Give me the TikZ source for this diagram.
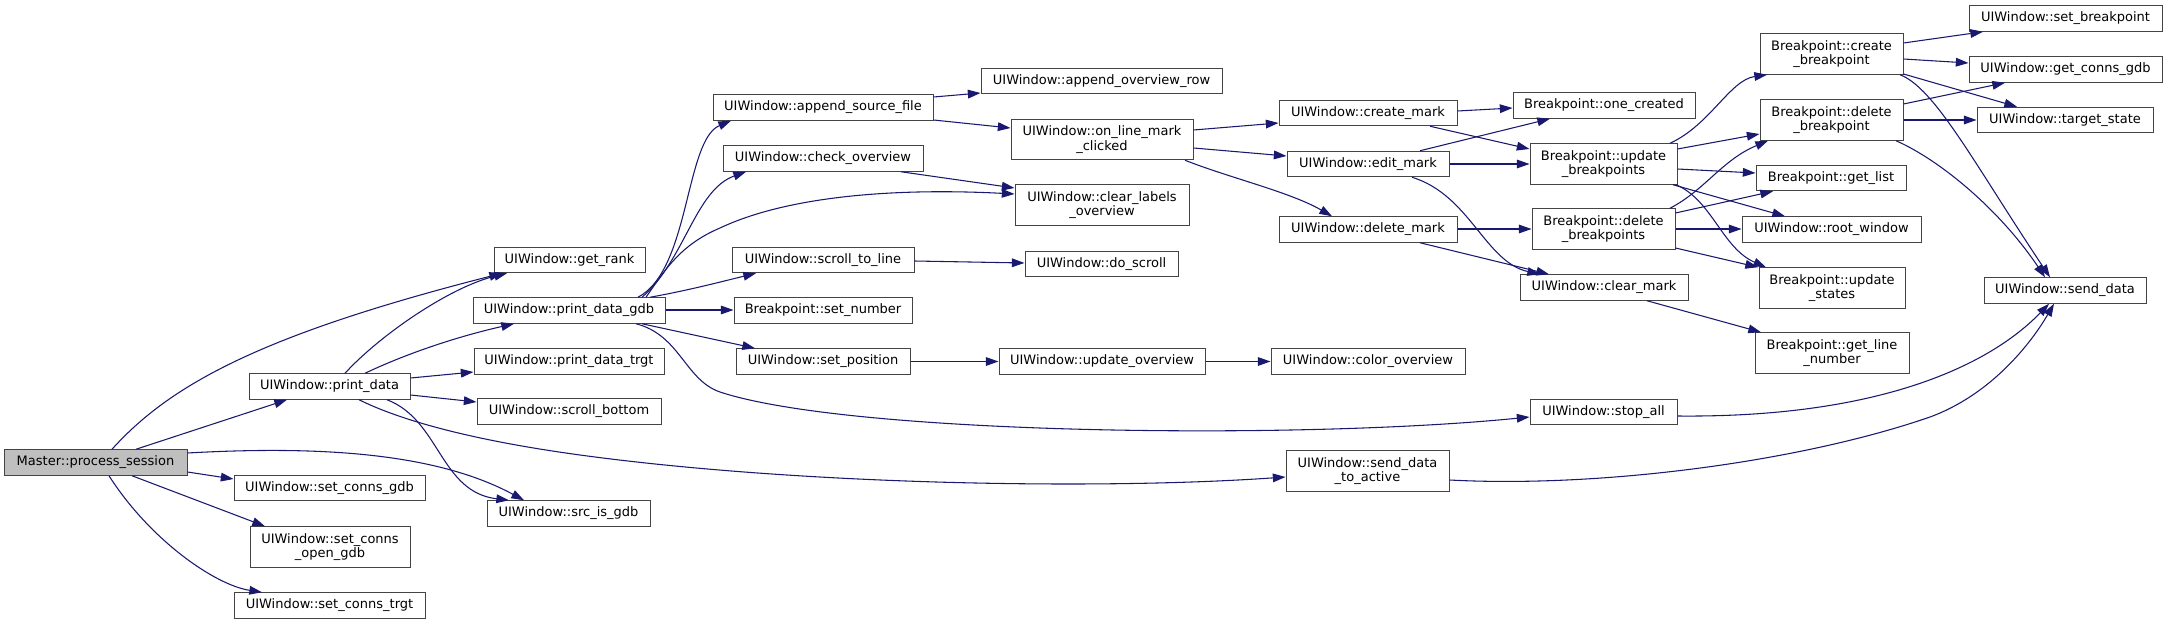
\documentclass[tikz,border=0pt]{standalone}
\usepackage{fontspec}
\setmainfont{DejaVu Sans}
\usetikzlibrary{arrows.meta,calc}
\definecolor{edgeblue}{HTML}{191970}
\definecolor{boxline}{HTML}{444444}
\definecolor{rootfill}{HTML}{BFBFBF}
\begin{document}
\begin{tikzpicture}[x=0.75pt,y=-0.75pt,
  fn/.style={draw=boxline, line width=0.75pt, fill=white, inner sep=0pt, align=center,
    font=\fontsize{9.75}{10.75}\selectfont, minimum height=25.5*0.75pt},
  two/.style={minimum height=40.5*0.75pt},
  root/.style={fill=rootfill},
  call/.style={draw=edgeblue, line width=0.8pt, -{Triangle[length=9.5pt,width=6.5pt]}}]
\fill[white] (0,0) rectangle (2167,624);
\useasboundingbox (0,0) rectangle (2167,624);

% column 0
\node[fn, root, minimum width=183*0.75pt] (M) at (95.5,462.5) {Master::process\_session};
% column 1
\node[fn, minimum width=161*0.75pt] (PD) at (329.5,386.5) {UIWindow::print\_data};
\node[fn, minimum width=191*0.75pt] (SCG) at (329.5,488) {UIWindow::set\_conns\_gdb};
\node[fn, two, minimum width=160*0.75pt] (SCOG) at (330,547) {UIWindow::set\_conns\\\_open\_gdb};
\node[fn, minimum width=191*0.75pt] (SCT) at (329.5,605.5) {UIWindow::set\_conns\_trgt};
% column 2
\node[fn, minimum width=151*0.75pt] (GR) at (569.5,260) {UIWindow::get\_rank};
\node[fn, minimum width=192*0.75pt] (PDG) at (569,310.5) {UIWindow::print\_data\_gdb};
\node[fn, minimum width=190*0.75pt] (PDT) at (569,361.5) {UIWindow::print\_data\_trgt};
\node[fn, minimum width=184*0.75pt] (SB) at (569,411.5) {UIWindow::scroll\_bottom};
\node[fn, minimum width=163*0.75pt] (SIG) at (568.5,513.5) {UIWindow::src\_is\_gdb};
% column 3
\node[fn, minimum width=220*0.75pt] (ASF) at (823,107.5) {UIWindow::append\_source\_file};
\node[fn, minimum width=200*0.75pt] (CO) at (823,158.5) {UIWindow::check\_overview};
\node[fn, minimum width=182*0.75pt] (STL) at (823,260) {UIWindow::scroll\_to\_line};
\node[fn, minimum width=178*0.75pt] (SN) at (823,310.5) {Breakpoint::set\_number};
\node[fn, minimum width=174*0.75pt] (SP) at (823,361.5) {UIWindow::set\_position};
% column 4
\node[fn, minimum width=241*0.75pt] (AOR) at (1101.5,81) {UIWindow::append\_overview\_row};
\node[fn, two, minimum width=182*0.75pt] (OLMC) at (1102,139.5) {UIWindow::on\_line\_mark\\\_clicked};
\node[fn, two, minimum width=174*0.75pt] (CLO) at (1102,205) {UIWindow::clear\_labels\\\_overview};
\node[fn, minimum width=153*0.75pt] (DS) at (1101.5,264) {UIWindow::do\_scroll};
\node[fn, minimum width=206*0.75pt] (UO) at (1102,361.5) {UIWindow::update\_overview};
% column 5
\node[fn, minimum width=178*0.75pt] (CM) at (1368,113) {UIWindow::create\_mark};
\node[fn, minimum width=162*0.75pt] (EM) at (1368,164) {UIWindow::edit\_mark};
\node[fn, minimum width=178*0.75pt] (DM) at (1368,229.5) {UIWindow::delete\_mark};
\node[fn, minimum width=194*0.75pt] (COV) at (1368,361.5) {UIWindow::color\_overview};
\node[fn, two, minimum width=163*0.75pt] (SDTA) at (1367.5,471) {UIWindow::send\_data\\\_to\_active};
% column 6
\node[fn, minimum width=182*0.75pt] (OC) at (1604,105.5) {Breakpoint::one\_created};
\node[fn, two, minimum width=147*0.75pt] (UB) at (1603.5,164) {Breakpoint::update\\\_breakpoints};
\node[fn, two, minimum width=143*0.75pt] (DB) at (1603.5,229) {Breakpoint::delete\\\_breakpoints};
\node[fn, minimum width=168*0.75pt] (CLM) at (1604,287.5) {UIWindow::clear\_mark};
\node[fn, minimum width=147*0.75pt] (SA) at (1603.5,412) {UIWindow::stop\_all};
% column 7
\node[fn, two, minimum width=143*0.75pt] (CB) at (1831.5,54) {Breakpoint::create\\\_breakpoint};
\node[fn, two, minimum width=143*0.75pt] (DBp) at (1831.5,120) {Breakpoint::delete\\\_breakpoint};
\node[fn, minimum width=150*0.75pt] (GL) at (1831,178) {Breakpoint::get\_list};
\node[fn, minimum width=179*0.75pt] (RW) at (1831.5,229.5) {UIWindow::root\_window};
\node[fn, two, minimum width=146*0.75pt] (US) at (1832,288) {Breakpoint::update\\\_states};
\node[fn, two, minimum width=154*0.75pt] (GLN) at (1832,353) {Breakpoint::get\_line\\\_number};
% column 8
\node[fn, minimum width=193*0.75pt] (SBP) at (2065.5,18.5) {UIWindow::set\_breakpoint};
\node[fn, minimum width=193*0.75pt] (GCG) at (2065.5,69.5) {UIWindow::get\_conns\_gdb};
\node[fn, minimum width=176*0.75pt] (TS) at (2065,120) {UIWindow::target\_state};
\node[fn, minimum width=162*0.75pt] (SD) at (2065,290.5) {UIWindow::send\_data};

% edges from Master::process_session
\draw[call] (M.north -| 112,0) .. controls (170,385) and (260,335) .. (GR.south -| 502,0);
\draw[call] (M.north -| 136,0) -- (PD.south -| 287,0);
\draw[call] (M.east |- 0,453) .. controls (330,445) and (440,455) .. (SIG.north -| 524,0);
\draw[call] (M.east |- 0,472) -- (SCG.west |- 0,479);
\draw[call] (M.south -| 132,0) -- (SCOG.north -| 265,0);
\draw[call] (M.south -| 109,0) .. controls (150,540) and (215,585) .. (SCT.north -| 262,0);

% edges from print_data
\draw[call] (PD.north -| 345,0) .. controls (380,335) and (450,287) .. (GR.south -| 507,0);
\draw[call] (PD.north -| 365,0) .. controls (410,352) and (460,336) .. (PDG.south -| 514,0);
\draw[call] (PD.east |- 0,378) -- (PDT.west |- 0,372);
\draw[call] (PD.east |- 0,395) -- (SB.west |- 0,402);
\draw[call] (PD.south -| 387,0) .. controls (440,420) and (440,492) .. (SIG.north -| 509,0);
\draw[call] (PD.south -| 359,0) .. controls (400,420) and (470,440) .. (580,455)
  .. controls (800,485) and (1100,490) .. (SDTA.west |- 0,477);

% edges from print_data_gdb
\draw[call] (PDG.north -| 638,0) .. controls (690,270) and (685,140) .. (ASF.south -| 731,0);
\draw[call] (PDG.north -| 642,0) .. controls (685,260) and (695,190) .. (CO.south -| 746,0);
\draw[call] (PDG.north -| 646,0) .. controls (665,270) and (680,245) .. (720,228)
  .. controls (790,195) and (900,188) .. (CLO.west |- 0,194);
\draw[call] (PDG.north -| 650,0) .. controls (690,290) and (720,282) .. (STL.south -| 756,0);
\draw[call] (PDG.east |- 0,310) -- (SN.west |- 0,310);
\draw[call] (PDG.south -| 642,0) -- (SP.north -| 755,0);
\draw[call] (PDG.south -| 636,0) .. controls (680,335) and (685,380) .. (720,392)
  .. controls (850,435) and (1300,440) .. (SA.west |- 0,417);

% column 3 out
\draw[call] (ASF.east |- 0,97) -- (AOR.west |- 0,93);
\draw[call] (ASF.east |- 0,120) -- (OLMC.west |- 0,128);
\draw[call] (CO.south -| 901,0) -- (CLO.west |- 0,188);
\draw[call] (STL.east |- 0,261) -- (DS.west |- 0,263);
\draw[call] (SP) -- (UO);
\draw[call] (UO) -- (COV);

% on_line_mark_clicked
\draw[call] (OLMC.east |- 0,130) -- (CM.west |- 0,123);
\draw[call] (OLMC.east |- 0,148) -- (EM.west |- 0,156);
\draw[call] (OLMC.south -| 1185,0) .. controls (1230,178) and (1290,192) .. (DM.north -| 1332,0);

% marks
\draw[call] (CM.east |- 0,111) -- (OC.west |- 0,108);
\draw[call] (CM.south -| 1430,0) -- (UB.west |- 0,149);
\draw[call] (EM.north -| 1420,0) -- (OC.south -| 1550,0);
\draw[call] (EM.east |- 0,164) -- (UB.west |- 0,164);
\draw[call] (EM.south -| 1412,0) .. controls (1470,195) and (1485,262) .. (CLM.north -| 1540,0);
\draw[call] (DM.east |- 0,229) -- (DB.west |- 0,229);
\draw[call] (DM.south -| 1420,0) -- (CLM.north -| 1549,0);

% update_breakpoints
\draw[call] (UB.north -| 1670,0) .. controls (1710,125) and (1730,80) .. (CB.south -| 1767,0);
\draw[call] (UB.east |- 0,149) -- (DBp.west |- 0,134);
\draw[call] (UB.east |- 0,169) -- (GL.west |- 0,173);
\draw[call] (UB.south -| 1673,0) -- (RW.north -| 1785,0);
\draw[call] (UB.south -| 1676,0) .. controls (1712,200) and (1722,248) .. (US.north -| 1766,0);

% delete_breakpoints
\draw[call] (DB.north -| 1670,0) .. controls (1705,190) and (1722,160) .. (DBp.south -| 1768,0);
\draw[call] (DB.east |- 0,213) -- (GL.south -| 1773,0);
\draw[call] (DB.east |- 0,229) -- (RW.west |- 0,229);
\draw[call] (DB.east |- 0,248) -- (US.north -| 1758,0);

% clear_mark
\draw[call] (CLM.south -| 1647,0) -- (GLN.north -| 1761,0);

% create_breakpoint
\draw[call] (CB.east |- 0,43) -- (SBP.south -| 1983,0);
\draw[call] (CB.east |- 0,59) -- (GCG.west |- 0,63);
\draw[call] (CB.east |- 0,74) -- (TS.north -| 2017,0);
\draw[call] (CB.south -| 1900,0) .. controls (1935,88) and (1975,165) .. (SD.north -| 2050,0);

% delete_breakpoint
\draw[call] (DBp.east |- 0,104) -- (GCG.south -| 2005,0);
\draw[call] (DBp.east |- 0,120) -- (TS.west |- 0,120);
\draw[call] (DBp.south -| 1896,0) .. controls (1940,160) and (2000,210) .. (SD.north -| 2045,0);

% to send_data from below
\draw[call] (SA.east |- 0,416) .. controls (1880,418) and (1990,365) .. (SD.south -| 2049,0);
\draw[call] (SDTA.east |- 0,480) .. controls (1600,488) and (1800,462) .. (1930,417)
  .. controls (1990,395) and (2030,345) .. (SD.south -| 2054,0);
\end{tikzpicture}
\end{document}
